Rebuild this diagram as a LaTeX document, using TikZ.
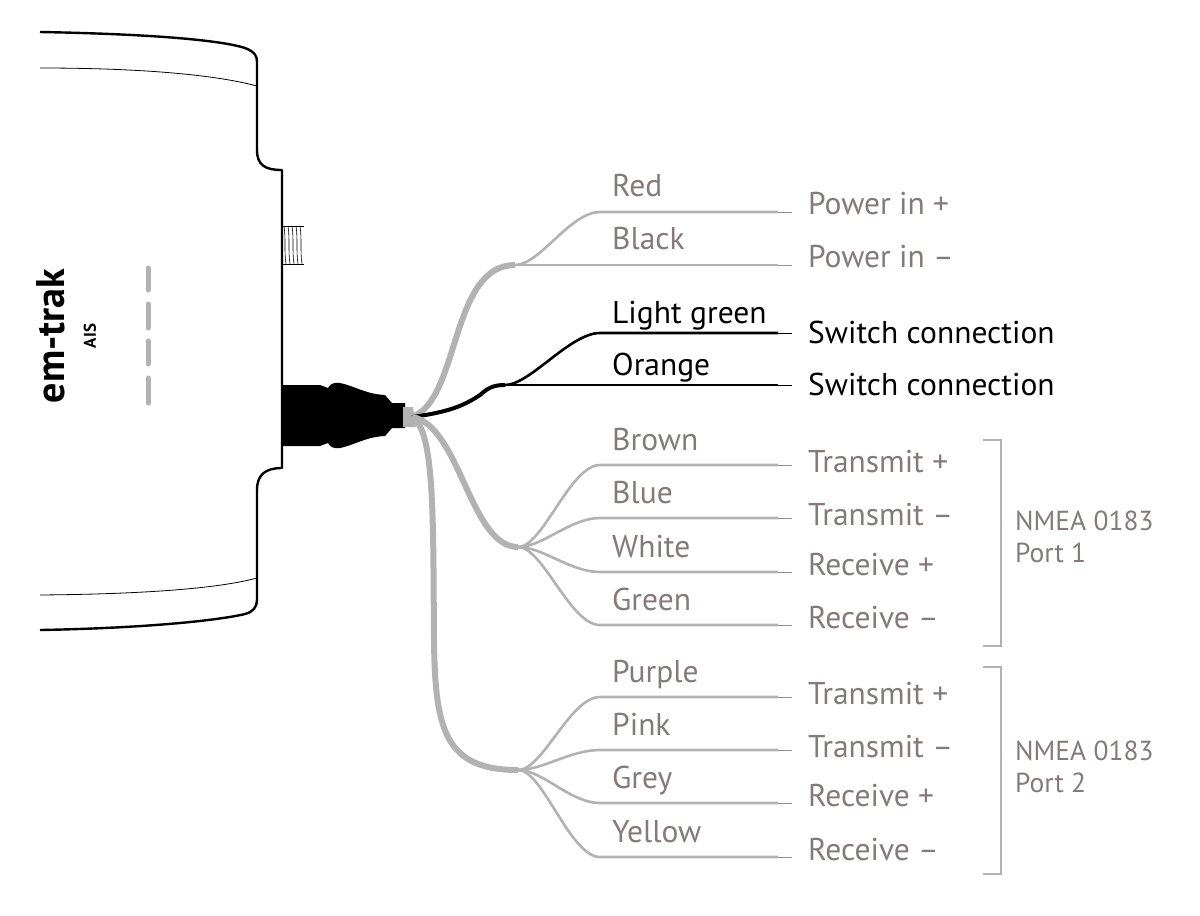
\documentclass[tikz,border=0pt]{standalone}
\usepackage{fontspec}
\setmainfont{PT Sans}
\usetikzlibrary{calc}
\begin{document}
\begin{tikzpicture}[x=1pt,y=-1pt,
  lbl/.style={text=txtc,font=\fontsize{31.5}{32}\selectfont,anchor=base west,inner sep=0},
  blbl/.style={lbl,text=black},
  thin/.style={draw=wg,line width=2.6pt},
  thick/.style={draw=wg,line width=6pt},
  tip/.style={draw=wg!80!black,line width=1pt},
  dev/.style={line width=2.4pt,line join=round}]
\definecolor{wg}{RGB}{178,178,180}
\definecolor{txtc}{RGB}{132,122,122}
\useasboundingbox (0,0) rectangle (1200,916);
% device outline
\draw[dev] (40,32) .. controls (150,34) and (220,40) .. (245,48) .. controls (255,52) and (257,56) .. (257,62)
  -- (257,150) .. controls (257,165) and (265,170) .. (282,170) -- (282,468)
  .. controls (265,468) and (257,475) .. (257,490) -- (257,600) .. controls (257,607) and (253,612) .. (245,614)
  .. controls (220,620) and (150,628) .. (40,630);
\draw[line width=0.8pt] (40,68) .. controls (150,68) and (220,76) .. (257,86);
\draw[line width=0.8pt] (40,595) .. controls (150,594) and (220,588) .. (257,578);
% antenna connector
\foreach \x in {284,288,292,296,300} \draw[line width=0.6pt] (\x,226) .. controls (\x+2,240) and (\x,250) .. (\x+2,264);
\draw[line width=0.6pt] (282,226) -- (304,226) (282,264) -- (304,264);
\node[rotate=90,font=\bfseries\fontsize{40}{40}\selectfont,inner sep=0] (brand) at (51,336) {em-trak};
\node[rotate=90,font=\bfseries\fontsize{17}{17}\selectfont,inner sep=0] (ais) at (90,336) {AIS};
\foreach \a/\b in {268/290,304/328,341/364,378/403} \draw[wg,line width=5pt,line cap=round] (148,\a) -- (148,\b);
% cable plug
\fill (282,385) -- (320,385) .. controls (323,385) and (325,388) .. (328,388) .. controls (330,384) and (334,382) .. (340,383)
  .. controls (355,386) and (365,394) .. (385,395) -- (392,403) -- (405,403) -- (405,428) -- (392,428) -- (385,436)
  .. controls (365,437) and (355,445) .. (340,448) .. controls (334,449) and (330,447) .. (328,443)
  .. controls (325,443) and (323,446) .. (320,446) -- (282,446) -- cycle;
\fill[wg] (403,407) -- (413,407) -- (416,427) -- (403,427) -- cycle;
\coordinate (o) at (412,417);
% junctions
\coordinate (j1) at (515,265); \coordinate (j2) at (505,385);
\coordinate (j3) at (518,547); \coordinate (j4) at (518,770);
\draw[thick] (o) .. controls (460,400) and (450,265) .. (j1);
\draw[draw=black,line width=4pt] (o) .. controls (450,412) and (465,405) .. (480,395) .. controls (488,388) and (493,385) .. (j2);
\draw[thick] (o) .. controls (460,425) and (470,547) .. (j3);
\draw[thick] (o) .. controls (435,430) and (433,520) .. (434,640) .. controls (435,730) and (445,770) .. (j4);
% label table
\foreach \n/\y/\wire/\func/\g/\a/\b in {
  r/212/Red/Power in +/1/16/2, k/265/Black/Power in --/1/16/2,
  lg/333/Light green/Switch connection/2/10/10, or/385/Orange/Switch connection/2/10/10,
  br/465/Brown/Transmit +/3/15/7, bl/518/Blue/Transmit --/3/15/7, wh/572/White/Receive +/3/15/3, gn/625/Green/Receive --/3/15/3,
  pu/697/Purple/Transmit +/4/15/7, pi/750/Pink/Transmit --/4/15/7, gy/803/Grey/Receive +/4/15/3, ye/857/Yellow/Receive --/4/15/3}{
  \coordinate (e\n) at (778,\y);
  \coordinate (t\n) at (792,\y);
  \ifnum\g=2
    \node[blbl] (w\n) at (612,\y-\a) {\wire};
    \node[blbl] (f\n) at (808,\y+\b) {\func};
    \draw[black,line width=2.6pt] (j\g) .. controls ($(j\g)+(25,0)$) and (570,\y) .. (600,\y) -- (e\n);
    \draw[black,line width=1pt] (e\n) -- (t\n);
  \else
    \node[lbl] (w\n) at (612,\y-\a) {\wire};
    \node[lbl] (f\n) at (808,\y+\b) {\func};
    \draw[thin] (j\g) .. controls ($(j\g)+(25,0)$) and (570,\y) .. (600,\y) -- (e\n);
    \draw[tip] (e\n) -- (t\n);
  \fi
}
% brackets
\draw[draw=wg,line width=1.5pt] (983,440) -- (1001,440) -- (1001,646) -- (983,646);
\draw[draw=wg,line width=1.5pt] (983,667) -- (1001,667) -- (1001,874) -- (983,874);
\node[lbl,anchor=west,align=left,font=\fontsize{27.5}{32}\selectfont] (p1) at (1015,537) {NMEA 0183\\Port 1};
\node[lbl,anchor=west,align=left,font=\fontsize{27.5}{32}\selectfont] (p2) at (1015,767) {NMEA 0183\\Port 2};
\end{tikzpicture}
\end{document}
